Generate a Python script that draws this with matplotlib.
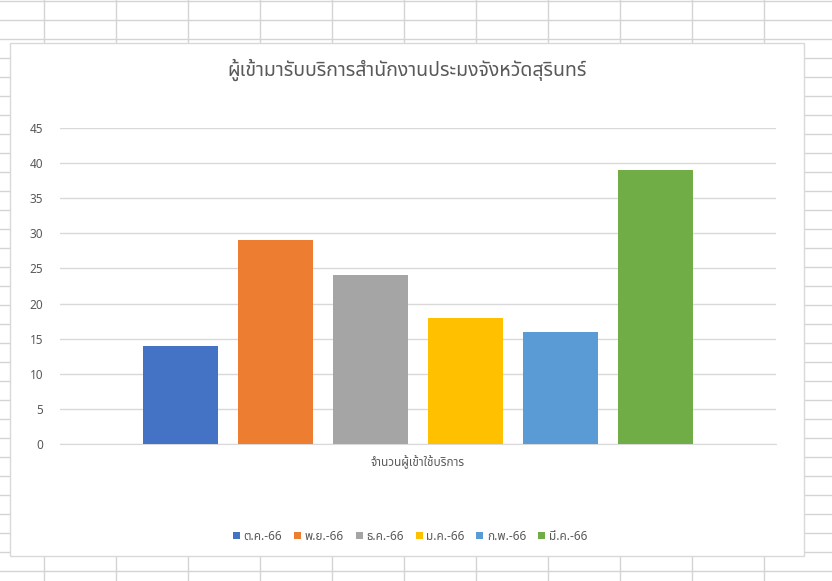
import matplotlib
matplotlib.use("Agg")
import matplotlib.pyplot as plt
from matplotlib import font_manager
from matplotlib.ft2font import FT2Font
from matplotlib.patches import Rectangle

# chart data
title = "ผู้เข้ามารับบริการสำนักงานประมงจังหวัดสุรินทร์"
category = "จำนวนผู้เข้าใช้บริการ"
months = ["ต.ค.-66", "พ.ย.-66", "ธ.ค.-66", "ม.ค.-66", "ก.พ.-66", "มี.ค.-66"]
visitors = [14, 29, 24, 18, 16, 39]
colors = ["#4472C4", "#ED7D31", "#A5A5A5", "#FFC000", "#5B9BD5", "#70AD47"]
yticks = list(range(0, 50, 5))


def find_thai_fonts():
    """Return installed family names that actually have Thai glyphs."""
    found = []
    for f in font_manager.fontManager.ttflist:
        try:
            if 0x0E01 in FT2Font(f.fname).get_charmap() and f.name not in found:
                found.append(f.name)
        except Exception:
            continue
    return found


thai = find_thai_fonts()
prefer = [n for n in ["Noto Sans Thai", "Noto Sans Thai UI", "Noto Sans", "Tahoma"] if n in thai]
families = (prefer or thai[:1]) + ["DejaVu Sans"]
plt.rcParams["font.family"] = families

W, H = 832, 581
fig = plt.figure(figsize=(W / 100, H / 100), dpi=100)

# spreadsheet grid behind the chart
bg = fig.add_axes([0, 0, 1, 1])
bg.set_xlim(0, W)
bg.set_ylim(H, 0)
bg.axis("off")
for x in range(44, W, 72):
    bg.axvline(x, color="#d4d4d4", lw=1)
for y in range(1, H, 19):
    bg.axhline(y, color="#d4d4d4", lw=1)
bg.add_patch(Rectangle((10, 43), 794, 513, facecolor="white",
                       edgecolor="#d9d9d9", lw=1, zorder=3))

# plot area
left, right, top, bottom = 60, 776, 128, 444
ax = fig.add_axes([left / W, (H - bottom) / H, (right - left) / W, (bottom - top) / H])
ax.set_facecolor("none")
ax.set_zorder(5)

width = 75 / 716
step = 95 / 716
for i, (m, v, c) in enumerate(zip(months, visitors, colors)):
    ax.bar((i - 2.5) * step, v, width=width, color=c, label=m, zorder=3)

ax.set_xlim(-0.5, 0.5)
ax.set_ylim(0, 45)
ax.set_yticks(yticks)
ax.yaxis.grid(True, color="#d9d9d9", lw=1)
ax.set_axisbelow(True)
for s in ["left", "right", "top"]:
    ax.spines[s].set_visible(False)
ax.spines["bottom"].set_color("#d9d9d9")
ax.tick_params(axis="y", length=0, pad=12, labelsize=8.5, labelcolor="#595959")
ax.set_xticks([0])
ax.set_xticklabels([category])
ax.tick_params(axis="x", length=0, pad=8, labelsize=8.5, labelcolor="#595959")

fig.text(407 / W, 1 - 70 / H, title, ha="center", va="center",
         fontsize=14, color="#595959")

fig.legend(loc="center", bbox_to_anchor=(410 / W, 1 - 536 / H), ncol=6,
           frameon=False, fontsize=8.5, labelcolor="#595959",
           handlelength=0.6, handleheight=0.6, handletextpad=0.3,
           columnspacing=1.0)

fig.savefig("out.png", dpi=100)
